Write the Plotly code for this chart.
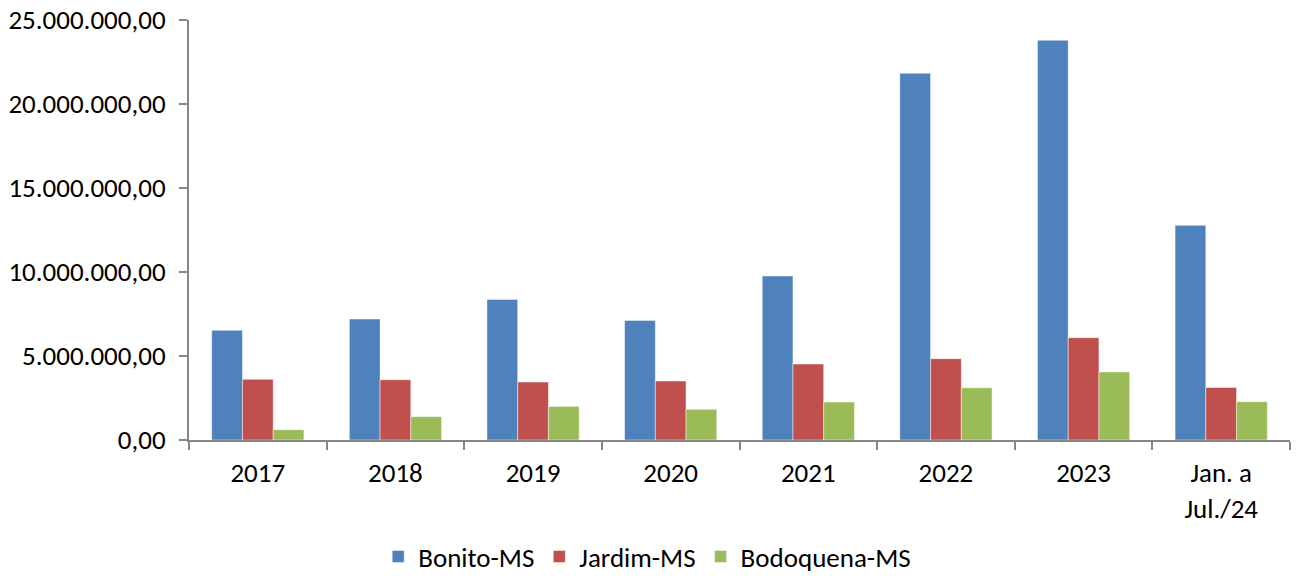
import plotly.graph_objects as go

categories = ["2017", "2018", "2019", "2020", "2021", "2022", "2023", "Jan. a<br>Jul./24"]
bonito = [6530000, 7200000, 8370000, 7120000, 9760000, 21830000, 23790000, 12780000]
jardim = [3610000, 3590000, 3450000, 3510000, 4520000, 4840000, 6090000, 3130000]
bodoquena = [610000, 1390000, 2000000, 1830000, 2260000, 3110000, 4050000, 2280000]

series_names = ["Bonito-MS", "Jardim-MS", "Bodoquena-MS"]
colors = ["#4F81BD", "#C0504D", "#9BBB59"]

FONT = "Carlito, Calibri, 'Open Sans', sans-serif"

fig = go.Figure()
for name, vals, col in zip(series_names, [bonito, jardim, bodoquena], colors):
    fig.add_trace(go.Bar(
        x=categories, y=vals, name=name,
        marker=dict(color=col, line=dict(color="rgba(255,255,255,0.45)", width=1)),
    ))

fig.update_layout(
    width=1297, height=576,
    margin=dict(l=189, r=7, t=20, b=136, autoexpand=False),
    paper_bgcolor="white", plot_bgcolor="white",
    barmode="group", bargap=0.33, bargroupgap=0,
    separators=",.",
    font=dict(family=FONT, size=27, color="#000000"),
    showlegend=True,
    legend=dict(
        orientation="h", xref="container", x=0.499, xanchor="center",
        yref="container", y=0.033, yanchor="middle",
        font=dict(family=FONT, size=27), traceorder="normal",
        tracegroupgap=0,
    ),
)
fig.update_xaxes(
    automargin=False,
    showline=True, linecolor="#868686", linewidth=2,
    ticks="outside", tickson="boundaries", ticklen=8, tickcolor="#868686", tickwidth=2,
    showgrid=False, tickfont=dict(family=FONT, size=27),
    ticklabelstandoff=8,
)
fig.update_yaxes(
    automargin=False,
    range=[0, 25000000], dtick=5000000, tickformat=",.2f",
    showline=True, linecolor="#868686", linewidth=2,
    ticks="outside", ticklen=8, tickcolor="#868686", tickwidth=2,
    showgrid=False, zeroline=False, tickfont=dict(family=FONT, size=27),
    ticklabelstandoff=8, ticklabeloverflow="allow",
)

fig.write_html(
    "out.html",
    config={"displayModeBar": False},
    post_script="document.body.style.margin='0';document.body.style.overflow='hidden';",
)
